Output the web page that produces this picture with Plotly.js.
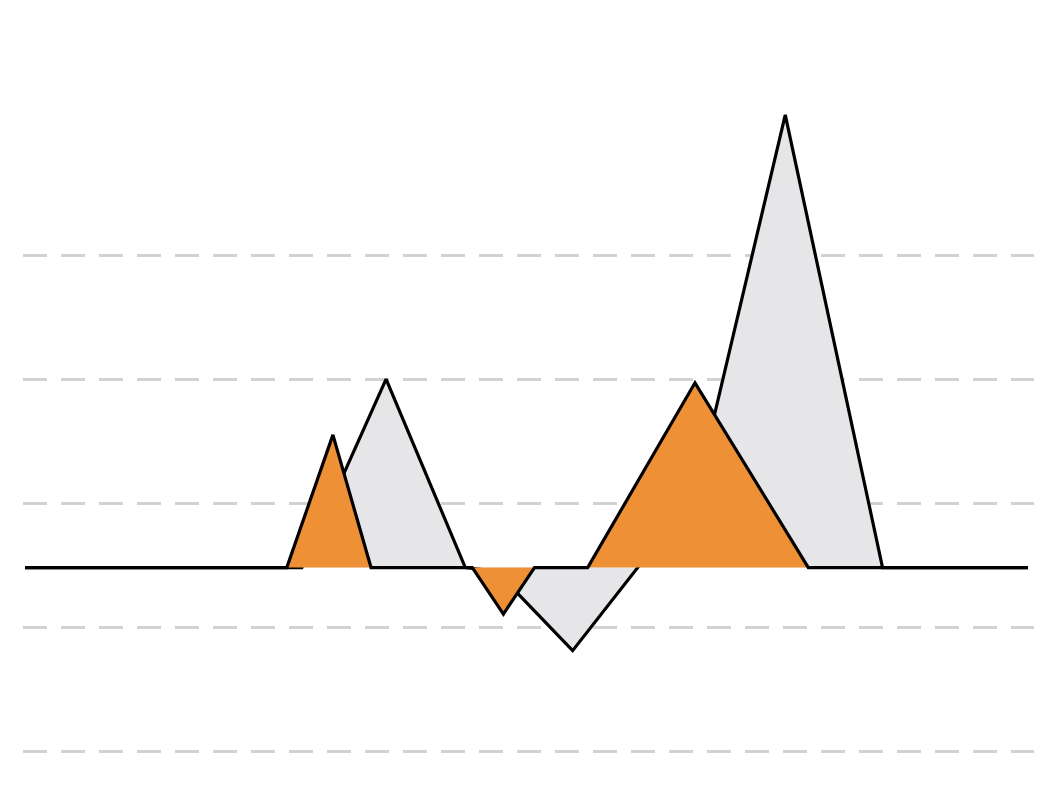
<!DOCTYPE html>
<html>
<head>
<meta charset="utf-8">
<script src="https://cdn.plot.ly/plotly-3.0.1.min.js"></script>
<style>
  html, body { margin: 0; padding: 0; background: #ffffff; }
  #myDiv { width: 1056px; height: 790px; }
</style>
</head>
<body>
<div id="myDiv"></div>
<script>
// grey series
greyX = [0, 27.6, 36.0, 43.9, 47.0, 54.6, 66.9, 75.8, 85.5, 100];
greyY = [0, 0, 1.52, 0, -0.03, -0.67, 0.60, 3.65, 0, 0];

// orange series
orangeX = [0, 26.1, 30.7, 34.5, 44.6, 47.7, 50.8, 56.1, 66.8, 78.1, 100];
orangeY = [0, 0, 1.07, 0, 0, -0.375, 0, 0, 1.49, 0, 0];

// gridline positions
gridVals = [-1.48, -0.48, 0.52, 1.52, 2.52];

var greyData = {
    x: greyX,
    y: greyY,
    type: 'scatter',
    mode: 'lines',
    fill: 'tozeroy',
    fillcolor: '#e6e6e8',
    line: {color: '#000000', width: 3.2},
    hoverinfo: 'skip',
    name: 'grey'
};

var orangeData = {
    x: orangeX,
    y: orangeY,
    type: 'scatter',
    mode: 'lines',
    fill: 'tozeroy',
    fillcolor: '#ee9035',
    line: {color: '#000000', width: 3.2},
    hoverinfo: 'skip',
    name: 'orange'
};

var layout = {
    width: 1056,
    height: 790,
    margin: {l: 23, r: 22, t: 0, b: 0},
    paper_bgcolor: '#ffffff',
    plot_bgcolor: '#ffffff',
    showlegend: false,
    xaxis: {
        range: [-0.2, 100.6],
        showgrid: false,
        zeroline: false,
        showticklabels: false,
        ticks: '',
        showline: false
    },
    yaxis: {
        range: [-1.794, 4.577],
        tickmode: 'array',
        tickvals: gridVals,
        showticklabels: false,
        ticks: '',
        showgrid: true,
        gridcolor: '#d2d2d2',
        gridwidth: 3,
        griddash: '24px,14px',
        zeroline: false,
        showline: false
    }
};

var data = [greyData, orangeData];

Plotly.newPlot('myDiv', data, layout, {staticPlot: true, displayModeBar: false});
</script>
</body>
</html>
